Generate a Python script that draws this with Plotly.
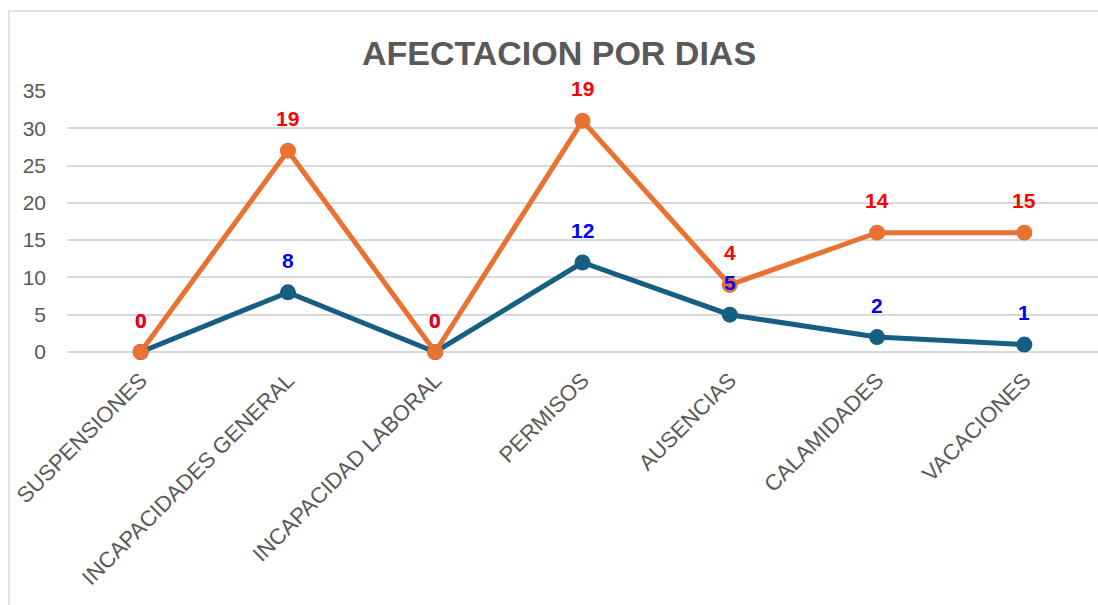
import numpy as np
import plotly.graph_objects as go

# Categories and series values (days)
categories = [
    "SUSPENSIONES",
    "INCAPACIDADES GENERAL",
    "INCAPACIDAD LABORAL",
    "PERMISOS",
    "AUSENCIAS",
    "CALAMIDADES",
    "VACACIONES",
]
serie_azul = [0, 8, 0, 12, 5, 2, 1]
serie_naranja = [0, 19, 0, 19, 4, 14, 15]
y_ticks = [0, 5, 10, 15, 20, 25, 30, 35]

# Stacked line: the second series sits on top of the first
naranja_apilada = list(np.add(serie_azul, serie_naranja))

W, H = 1098, 605
L, R, T, B = 67, 0, 91, 253
plot_w, plot_h = W - L - R, H - T - B

AZUL = "#156082"
NARANJA = "#E97132"
GRIS = "#595959"
GRID = "#D9D9D9"
FONT = "Liberation Sans, Arial, sans-serif"

fig = go.Figure()
fig.add_trace(go.Scatter(
    x=categories, y=serie_azul, mode="lines+markers",
    line=dict(color=AZUL, width=5),
    marker=dict(color=AZUL, size=16),
    cliponaxis=False, showlegend=False, hoverinfo="skip",
))
fig.add_trace(go.Scatter(
    x=categories, y=naranja_apilada, mode="lines+markers",
    line=dict(color=NARANJA, width=5),
    marker=dict(color=NARANJA, size=16),
    cliponaxis=False, showlegend=False, hoverinfo="skip",
))

annotations = []
for cat, v in zip(categories, serie_azul):
    annotations.append(dict(
        x=cat, y=v, text=str(v), showarrow=False, yanchor="middle",
        yshift=32, font=dict(family=FONT, size=21, color="#0000FF", weight="bold"),
    ))
for cat, v, top in zip(categories, serie_naranja, naranja_apilada):
    annotations.append(dict(
        x=cat, y=top, text=str(v), showarrow=False, yanchor="middle",
        yshift=32, font=dict(family=FONT, size=21, color="#FF0000", weight="bold"),
    ))


def px_x(px):
    return (px - L) / plot_w


def px_y(py):
    return (H - B - py) / plot_h


# Light chart-area border (left and top edges)
shapes = [
    dict(type="line", xref="paper", yref="paper",
         x0=px_x(9), x1=px_x(9), y0=px_y(11), y1=px_y(H + 5),
         line=dict(color=GRID, width=1.5)),
    dict(type="line", xref="paper", yref="paper",
         x0=px_x(9), x1=px_x(W + 5), y0=px_y(11), y1=px_y(11),
         line=dict(color=GRID, width=1.5)),
]

fig.update_layout(
    width=W, height=H,
    margin=dict(l=L, r=R, t=T, b=B),
    paper_bgcolor="white", plot_bgcolor="white",
    title=dict(
        text="AFECTACION POR DIAS",
        x=559 / W, xref="container", xanchor="center",
        y=1 - 53 / H, yref="container", yanchor="middle",
        font=dict(family=FONT, size=34, color=GRIS, weight="bold"),
    ),
    annotations=annotations,
    shapes=shapes,
)
fig.update_xaxes(
    range=[-0.5, len(categories) - 0.5],
    tickangle=-45, showgrid=False, showline=False, zeroline=False,
    ticklabelstandoff=10,
    tickfont=dict(family=FONT, size=22, color=GRIS),
)
fig.update_yaxes(
    range=[0, 35], tickvals=y_ticks, ticktext=[str(t) for t in y_ticks],
    showgrid=True, gridcolor=GRID, gridwidth=1.5,
    zeroline=True, zerolinecolor=GRID, zerolinewidth=1.5,
    showline=False, ticklabelstandoff=20,
    tickfont=dict(family=FONT, size=21, color=GRIS),
)

fig.write_html("out.html")
